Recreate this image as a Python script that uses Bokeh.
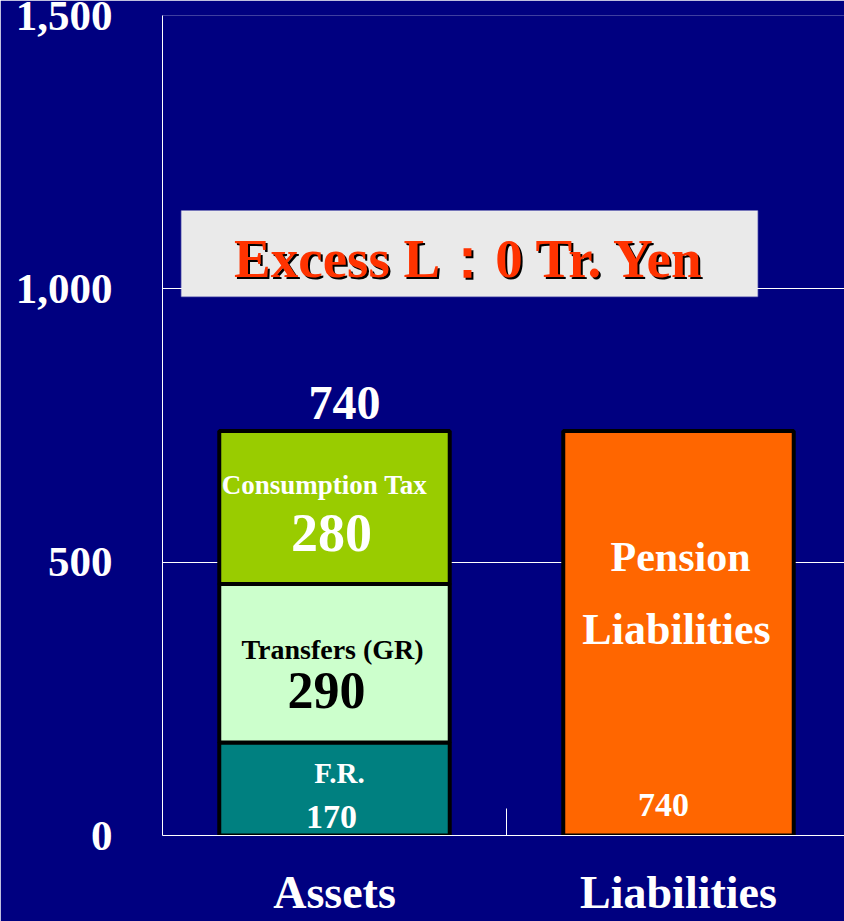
from bokeh.plotting import figure
from bokeh.models import (Range1d, FixedTicker, NumeralTickFormatter, Label,
                          BoxAnnotation, ColumnDataSource)
from bokeh.embed import file_html
from bokeh.resources import INLINE

# ---- data ----
categories = ["Assets", "Liabilities"]
asset_parts = ["F.R.", "Transfers (GR)", "Consumption Tax"]
asset_values = [170, 290, 280]
asset_colors = ["#008080", "#CCFFCC", "#99CC00"]
asset_text_colors = ["white", "black", "white"]
liability_name = "Pension\nLiabilities"
liability_value = 740
y_ticks = [0, 500, 1000, 1500]
banner_text = "Excess L：0 Tr. Yen"

FONT = "Liberation Serif"
BG = "#000080"

p = figure(width=844, height=921, output_backend="svg", toolbar_location=None,
           x_range=Range1d(-0.5, 1.4826), y_range=Range1d(0, 1500),
           min_border_left=162, min_border_top=15, min_border_right=0,
           min_border_bottom=86)
p.background_fill_color = BG
p.border_fill_color = BG
p.outline_line_color = None
p.xgrid.grid_line_color = None
p.ygrid.grid_line_color = "white"
p.ygrid.grid_line_width = 1

# ---- bars ----
bottoms = [sum(asset_values[:i]) for i in range(len(asset_values))]
tops = [b + v for b, v in zip(bottoms, asset_values)]
src = ColumnDataSource(dict(x=[0] * 3, bottom=bottoms, top=tops, color=asset_colors))
p.vbar(x="x", bottom="bottom", top="top", width=0.67, fill_color="color",
       line_color="black", line_width=4, source=src)
p.vbar(x=[1], bottom=[0], top=[liability_value], width=0.67, fill_color="#FF6600",
       line_color="black", line_width=4)

# ---- axes ----
p.yaxis.ticker = FixedTicker(ticks=y_ticks)
p.yaxis.formatter = NumeralTickFormatter(format="0,0")
p.yaxis.axis_line_color = "white"
p.yaxis.axis_line_width = 1
p.yaxis.major_tick_out = 0
p.yaxis.major_tick_in = 0
p.yaxis.minor_tick_line_color = None
p.yaxis.major_label_standoff = 50
p.yaxis.major_label_text_font = FONT
p.yaxis.major_label_text_font_style = "bold"
p.yaxis.major_label_text_font_size = "43px"
p.yaxis.major_label_text_color = "white"

p.xaxis.ticker = FixedTicker(ticks=list(range(len(categories))), minor_ticks=[0.5])
p.xaxis.major_label_overrides = {i: c for i, c in enumerate(categories)}
p.xaxis.axis_line_color = "white"
p.xaxis.axis_line_width = 1
p.xaxis.major_tick_out = 0
p.xaxis.major_tick_in = 0
p.xaxis.minor_tick_in = 27
p.xaxis.minor_tick_out = 0
p.xaxis.minor_tick_line_color = "white"
p.xaxis.major_label_standoff = 31
p.xaxis.major_label_text_font = FONT
p.xaxis.major_label_text_font_style = "bold"
p.xaxis.major_label_text_font_size = "46px"
p.xaxis.major_label_text_color = "white"

# ---- banner ----
p.add_layout(BoxAnnotation(left=-0.445, right=1.23, bottom=986, top=1143,
                           fill_color="#EAEAEA", fill_alpha=1,
                           line_color="white", line_width=1.5))
for dx, dy, col in [(2, -2, "black"), (0, 0, "#FF3300")]:
    p.add_layout(Label(x=0.392, y=1055, x_offset=dx, y_offset=dy, text=banner_text,
                       text_font=FONT, text_font_style="bold", text_font_size="55px",
                       text_color=col, text_align="center", text_baseline="middle"))

def lab(x, y, text, size, color, dx=0, dy=0):
    p.add_layout(Label(x=x, y=y, x_offset=dx, y_offset=dy, text=text,
                       text_font=FONT, text_font_style="bold",
                       text_font_size=size, text_color=color,
                       text_align="center", text_baseline="middle"))

# total above asset bar
lab(0, tops[-1], str(sum(asset_values)), "48px", "white", dx=10, dy=28)

# segment labels
name_dy = [16, 14, 23]
val_dy = [-28, -27, -25]
name_dx = [5, -2, -10]
val_dx = [-3, -8, -3]
name_sizes = ["29px", "28px", "27px"]
val_sizes = ["34px", "52px", "54px"]
for i, (name, v) in enumerate(zip(asset_parts, asset_values)):
    mid = bottoms[i] + v / 2
    lab(0, mid, name, name_sizes[i], asset_text_colors[i], dx=name_dx[i], dy=name_dy[i])
    lab(0, mid, str(v), val_sizes[i], asset_text_colors[i], dx=val_dx[i], dy=val_dy[i])

# liabilities labels
lmid = liability_value / 2
n1, n2 = liability_name.split("\n")
lab(1, lmid, n1, "42px", "white", dx=2, dy=76)
lab(1, lmid, n2, "44px", "white", dx=-2, dy=4)
lab(1, 0, str(liability_value), "34px", "white", dx=-15, dy=31)

open("out.html", "w").write(file_html(p, INLINE))
